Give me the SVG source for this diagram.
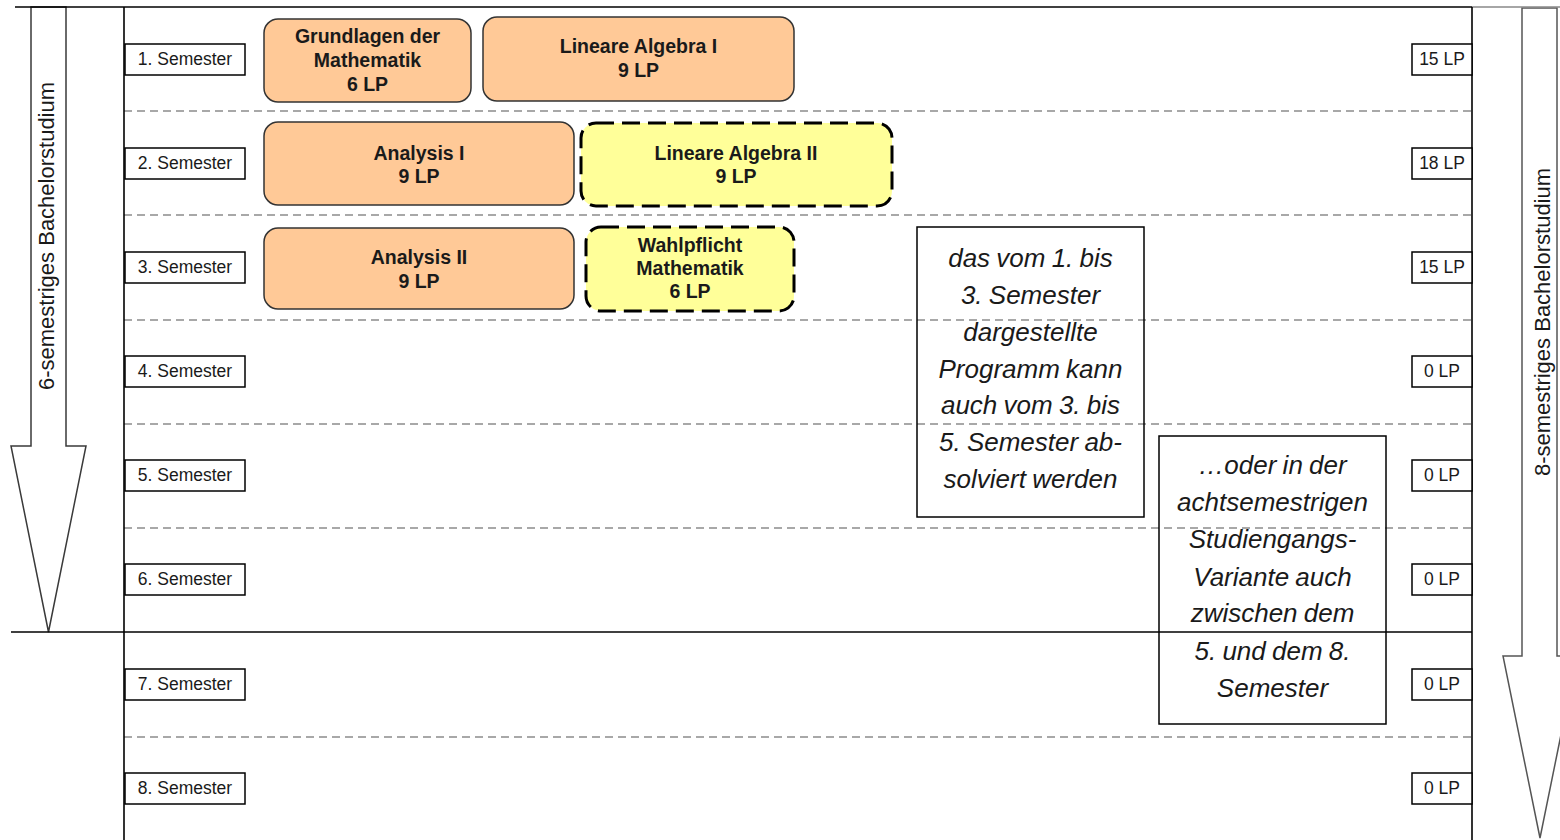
<svg xmlns="http://www.w3.org/2000/svg" width="1560" height="840" viewBox="0 0 1560 840">
<style>
.bg{fill:#ffffff}
.frame{stroke:#000;stroke-width:1.6;fill:none}
.dash{stroke:#8c8c8c;stroke-width:1.5;stroke-dasharray:8,5;fill:none}
.lbl{fill:#fff;stroke:#000;stroke-width:1.5}
.lt{font-family:"Liberation Sans",Arial,sans-serif;font-size:17.5px;fill:#1a1a1a;text-anchor:middle}
.mod{fill:#FFC997;stroke:#333;stroke-width:1.5}
.opt{fill:#FFFF99;stroke:#000;stroke-width:3;stroke-dasharray:18,8}
.mt{font-family:"Liberation Sans",Arial,sans-serif;font-size:19.5px;font-weight:bold;fill:#1a1a1a;text-anchor:middle}
.note{fill:none;stroke:#000;stroke-width:1.5}
.nt{font-family:"Liberation Sans",Arial,sans-serif;font-size:26px;font-style:italic;fill:#1a1a1a;text-anchor:middle;word-spacing:-1px}
.arr{fill:#fff;stroke:#3a3a3a;stroke-width:1.5}
.arr2{fill:#fff;stroke:#555;stroke-width:1.5}
.at{font-family:"Liberation Sans",Arial,sans-serif;font-size:22px;fill:#1a1a1a;text-anchor:middle}
</style>
<rect class="bg" x="0" y="0" width="1560" height="840"/>

<g id="arrow-6">
<polygon class="arr" points="31,7 66,7 66,446 86,446 48.5,632 11,446 31,446"/>
<text class="at" transform="translate(54,236) rotate(-90)">6-semestriges  Bachelorstudium</text>
</g>
<g id="arrow-8">
<polygon class="arr2" points="1522,8 1557,8 1557,656 1577,656 1540,838 1503,656 1522,656"/>
<text class="at" transform="translate(1550,322) rotate(-90)">8-semestriges  Bachelorstudium</text>
</g>

<g id="grid">
<line class="dash" x1="124" y1="111" x2="1472" y2="111"/>
<line class="dash" x1="124" y1="215" x2="1472" y2="215"/>
<line class="dash" x1="124" y1="320" x2="1472" y2="320"/>
<line class="dash" x1="124" y1="424" x2="1472" y2="424"/>
<line class="dash" x1="124" y1="528" x2="1472" y2="528"/>
<line class="dash" x1="124" y1="737" x2="1472" y2="737"/>
<line class="frame" x1="11" y1="632" x2="1472" y2="632"/>
<line class="frame" x1="15" y1="7" x2="1472" y2="7"/>
<line x1="1472" y1="7" x2="1560" y2="7" stroke="#888" stroke-width="1.5"/>
<line class="frame" x1="124" y1="7" x2="124" y2="840"/>
<line class="frame" x1="1472" y1="7" x2="1472" y2="840"/>
</g>

<g id="semesters">
<rect class="lbl" x="125" y="44" width="120" height="31"/><text class="lt" x="185" y="65">1. Semester</text>
<rect class="lbl" x="125" y="148" width="120" height="31"/><text class="lt" x="185" y="169">2. Semester</text>
<rect class="lbl" x="125" y="252" width="120" height="31"/><text class="lt" x="185" y="273">3. Semester</text>
<rect class="lbl" x="125" y="356" width="120" height="31"/><text class="lt" x="185" y="377">4. Semester</text>
<rect class="lbl" x="125" y="460" width="120" height="31"/><text class="lt" x="185" y="481">5. Semester</text>
<rect class="lbl" x="125" y="564" width="120" height="31"/><text class="lt" x="185" y="585">6. Semester</text>
<rect class="lbl" x="125" y="669" width="120" height="31"/><text class="lt" x="185" y="690">7. Semester</text>
<rect class="lbl" x="125" y="773" width="120" height="31"/><text class="lt" x="185" y="794">8. Semester</text>
</g>

<g id="credits">
<rect class="lbl" x="1412" y="44" width="60" height="31"/><text class="lt" x="1442" y="65">15 LP</text>
<rect class="lbl" x="1412" y="148" width="60" height="31"/><text class="lt" x="1442" y="169">18 LP</text>
<rect class="lbl" x="1412" y="252" width="60" height="31"/><text class="lt" x="1442" y="273">15 LP</text>
<rect class="lbl" x="1412" y="356" width="60" height="31"/><text class="lt" x="1442" y="377">0 LP</text>
<rect class="lbl" x="1412" y="460" width="60" height="31"/><text class="lt" x="1442" y="481">0 LP</text>
<rect class="lbl" x="1412" y="564" width="60" height="31"/><text class="lt" x="1442" y="585">0 LP</text>
<rect class="lbl" x="1412" y="669" width="60" height="31"/><text class="lt" x="1442" y="690">0 LP</text>
<rect class="lbl" x="1412" y="773" width="60" height="31"/><text class="lt" x="1442" y="794">0 LP</text>
</g>

<g id="grundlagen">
<rect class="mod" x="264" y="19" width="207" height="83" rx="14"/>
<text class="mt" x="367.5" y="43">Grundlagen  der</text>
<text class="mt" x="367.5" y="67">Mathematik</text>
<text class="mt" x="367.5" y="91">6 LP</text>
</g>
<g id="la1">
<rect class="mod" x="483" y="17" width="311" height="84" rx="14"/>
<text class="mt" x="638.5" y="53">Lineare Algebra I</text>
<text class="mt" x="638.5" y="77">9 LP</text>
</g>
<g id="ana1">
<rect class="mod" x="264" y="122" width="310" height="83" rx="14"/>
<text class="mt" x="419" y="160">Analysis  I</text>
<text class="mt" x="419" y="183">9 LP</text>
</g>
<g id="la2">
<rect class="opt" x="581" y="123" width="311" height="83" rx="15"/>
<text class="mt" x="736" y="160">Lineare Algebra II</text>
<text class="mt" x="736" y="183">9 LP</text>
</g>
<g id="ana2">
<rect class="mod" x="264" y="228" width="310" height="81" rx="14"/>
<text class="mt" x="419" y="264">Analysis  II</text>
<text class="mt" x="419" y="288">9 LP</text>
</g>
<g id="wpm">
<rect class="opt" x="586" y="227" width="208" height="84" rx="15"/>
<text class="mt" x="690" y="252">Wahlpflicht</text>
<text class="mt" x="690" y="275">Mathematik</text>
<text class="mt" x="690" y="298">6 LP</text>
</g>

<g id="note1">
<rect class="note" x="917" y="227" width="227" height="290"/>
<text class="nt" x="1030.5" y="267">das vom 1. bis</text>
<text class="nt" x="1030.5" y="304">3. Semester</text>
<text class="nt" x="1030.5" y="341">dargestellte</text>
<text class="nt" x="1030.5" y="378">Programm kann</text>
<text class="nt" x="1030.5" y="414">auch vom 3. bis</text>
<text class="nt" x="1030.5" y="451">5. Semester ab-</text>
<text class="nt" x="1030.5" y="488">solviert werden</text>
</g>
<g id="note2">
<rect class="note" x="1159" y="436" width="227" height="288"/>
<text class="nt" x="1272.5" y="474">…oder in der</text>
<text class="nt" x="1272.5" y="511">achtsemestrigen</text>
<text class="nt" x="1272.5" y="548">Studiengangs-</text>
<text class="nt" x="1272.5" y="586">Variante auch</text>
<text class="nt" x="1272.5" y="622">zwischen dem</text>
<text class="nt" x="1272.5" y="660">5. und dem 8.</text>
<text class="nt" x="1272.5" y="697">Semester</text>
</g>
</svg>
